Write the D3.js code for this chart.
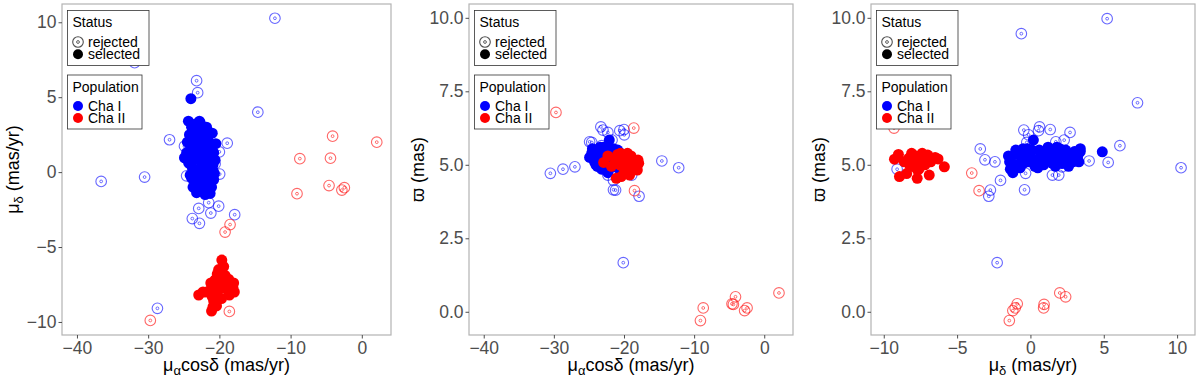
<!DOCTYPE html>
<html>
<head>
<meta charset="utf-8">
<script src="https://cdn.jsdelivr.net/npm/d3@7"></script>
<style>
  body { margin: 0; background: #fff; }
  svg { display: block; font-family: "Liberation Sans", Arial, Helvetica, sans-serif; }
</style>
</head>
<body>
<script>
let W = 1200, H = 382;

// each star: [pmra (mas/yr), pmdec (mas/yr), parallax (mas)]
let chaIRejected = [
  [-12.2, 10.27, 4.90], [-23.2, 6.1, 5.65], [-23.05, 5.3, 5.08], [-14.6, 4.0, 5.13],
  [-27.0, 2.16, 4.93], [-18.9, 1.93, 4.65], [-24.9, 1.73, 5.78], [-20.0, 1.35, 6.20],
  [-36.6, -0.62, 9.46], [-30.5, -0.33, 4.71], [-19.96, -0.13, 6.02], [-24.6, -0.25, 5.76],
  [-31.9, 7.3, 7.11], [-21.5, -2.04, 4.47], [-20.1, -2.27, 1.67], [-22.9, -2.42, 5.10],
  [-21.2, -2.73, 4.14], [-17.85, -2.84, 3.93], [-23.8, -3.1, 5.17], [-22.8, -3.42, 5.54],
  [-28.7, -9.09, 4.85], [-34.0, 5.23, 9.97], [-22.3, 2.7, 6.10], [-23.3, 0.62, 6.29],
  [-23.0, -0.45, 6.18], [-20.6, 0.55, 6.16], [-22.3, 1.5, 4.65], [-21.5, -0.4, 4.15],
  [-21.7, 2.3, 5.84]
];
let chaIIRejected = [
  [-29.7, -9.9, 6.78], [-18.6, -9.3, 6.25], [-19.2, -4.0, 4.72], [-18.5, -3.5, 4.12],
  [-8.7, 0.9, 0.13], [-9.1, -1.44, -0.30], [-4.1, 2.4, 0.51], [-4.4, 0.93, 0.25],
  [-4.6, -0.9, 0.27], [-2.45, -1.04, 0.13], [-2.8, -1.2, 0.04], [2.1, 2.0, 0.64]
];
let chaISelected = [
  [-24.0, 4.9, 5.44], [-24.35, 3.4, 5.45], [-22.8, 3.4, 5.55], [-23.9, 3.0, 5.30],
  [-23.2, 2.9, 5.20], [-22.6, 2.7, 5.35], [-24.2, 2.5, 5.10], [-23.5, 2.4, 5.50],
  [-22.0, 2.3, 5.25], [-21.6, 2.1, 5.05], [-23.0, 2.0, 5.40], [-24.1, 1.8, 5.20],
  [-22.4, 1.7, 4.95], [-21.3, 1.5, 5.30], [-23.6, 1.5, 5.05], [-20.8, 1.3, 5.15],
  [-22.9, 1.2, 5.60], [-24.9, 0.96, 5.25], [-21.9, 1.0, 5.45], [-23.3, 0.9, 5.15],
  [-20.6, 0.8, 5.35], [-24.3, 0.6, 5.50], [-22.5, 0.5, 5.20], [-21.2, 0.4, 5.00],
  [-23.8, 0.3, 4.95], [-22.1, 0.2, 5.84], [-20.9, 0.1, 5.50], [-23.1, 0.0, 5.30],
  [-24.1, -0.2, 5.10], [-21.6, -0.2, 5.20], [-22.7, -0.4, 5.45], [-20.8, -0.5, 5.05],
  [-23.5, -0.6, 5.25], [-21.9, -0.7, 4.90], [-22.9, -0.9, 5.00], [-21.1, -1.0, 5.40],
  [-23.2, -1.37, 4.85], [-21.3, -1.42, 5.10], [-22.3, -1.2, 4.73], [-22.0, -1.5, 5.30],
  [-23.7, -1.0, 5.35], [-20.5, 1.9, 5.40], [-23.4, 3.2, 5.25], [-22.2, 2.9, 5.10],
  [-21.8, 3.0, 5.45], [-24.6, 1.3, 5.40], [-24.5, 2.0, 5.55], [-20.7, -0.1, 5.25],
  [-22.6, 1.4, 5.15], [-23.0, -0.2, 5.55], [-21.4, 0.9, 5.10], [-22.3, 0.8, 5.35],
  [-23.9, -0.4, 5.45], [-22.8, 2.2, 5.05], [-21.0, 2.6, 5.30], [-23.6, 2.6, 4.95],
  [-22.1, -1.0, 5.50], [-20.9, 0.5, 4.90], [-24.0, 0.9, 5.00], [-22.5, 3.1, 5.40],
  [-21.7, -1.3, 5.05], [-23.4, 1.8, 5.60], [-22.0, 1.9, 5.50], [-21.5, -0.5, 5.55],
  [-22.7, 3.3, 5.10], [-23.1, 3.25, 5.35]
];
let chaIISelected = [
  [-19.66, -5.87, 4.93], [-20.1, -6.5, 5.25], [-20.3, -6.8, 5.10], [-19.8, -7.0, 5.33],
  [-20.6, -7.2, 5.00], [-19.3, -7.1, 5.20], [-21.2, -7.4, 5.15], [-18.7, -7.15, 5.05],
  [-18.0, -7.4, 5.16], [-20.0, -7.6, 4.85], [-19.0, -7.8, 5.30], [-21.8, -8.0, 4.95],
  [-22.9, -8.2, 5.08], [-17.9, -8.0, 5.05], [-20.5, -8.1, 5.39], [-19.7, -8.44, 4.70],
  [-21.0, -8.3, 5.22], [-22.3, -8.0, 5.30], [-20.4, -8.93, 4.60], [-21.1, -9.27, 5.19],
  [-20.8, -8.6, 5.10], [-18.1, -7.7, 4.82], [-19.4, -6.3, 5.20], [-21.1, -7.72, 4.54],
  [-20.9, -9.0, 5.35], [-18.6, -8.2, 4.95], [-19.2, -6.9, 4.65], [-20.2, -7.9, 5.18],
  [-19.5, -7.38, 5.39]
];

let muTicks = [-10, -5, 0, 5, 10];
let pmraTicks = [-40, -30, -20, -10, 0];
let plxTicks = [0, 2.5, 5, 7.5, 10];
let pmraDomain = [-42.1, 4.1];
let pmdecDomain = [-10.87, 11.22];
let plxDomain = [-0.79, 10.47];

let statusLabels = ["rejected", "selected"];
let populationLabels = ["Cha I", "Cha II"];
let popColors = ["#0000ff", "#ff0000"];

let plotTop = 4, plotBottom = 335;

let panels = [
  {left: 62, right: 391, xi: 0, yi: 1, xDom: pmraDomain, yDom: pmdecDomain,
   xTicks: pmraTicks, yTicks: muTicks, yFmt: d3.format("d"), xTitle: "ra", yTitle: "dec", yTitleX: 13},
  {left: 469, right: 793, xi: 0, yi: 2, xDom: pmraDomain, yDom: plxDomain,
   xTicks: pmraTicks, yTicks: plxTicks, yFmt: d3.format(".1f"), xTitle: "ra", yTitle: "plx", yTitleX: 418},
  {left: 871, right: 1195, xi: 1, yi: 2, xDom: pmdecDomain, yDom: plxDomain,
   xTicks: muTicks, yTicks: plxTicks, yFmt: d3.format(".1f"), xTitle: "dec", yTitle: "plx", yTitleX: 819}
];

let svg = d3.select("body").append("svg")
  .attr("width", W)
  .attr("height", H);

function muTitle(sel, sub, rest) {
  sel.append("tspan").text("μ");
  sel.append("tspan").attr("font-size", "13px").attr("dy", 4).text(sub);
  sel.append("tspan").attr("dy", -4).text(rest);
}

function writeTitle(t, kind) {
  if (kind == "ra") muTitle(t, "α", "cosδ (mas/yr)");
  else if (kind == "dec") muTitle(t, "δ", " (mas/yr)");
  else t.text("ϖ (mas)");
}

function ring(g, x, y, color, alpha) {
  g.append("circle").attr("cx", x).attr("cy", y).attr("r", 5.3)
    .attr("fill", "none").attr("stroke", color).attr("stroke-width", 1.1).attr("stroke-opacity", alpha);
  g.append("circle").attr("cx", x).attr("cy", y).attr("r", 1.4)
    .attr("fill", "none").attr("stroke", color).attr("stroke-width", 0.9).attr("stroke-opacity", alpha);
}

panels.forEach(function(p) {
  let x = d3.scaleLinear().domain(p.xDom).range([p.left, p.right]);
  let y = d3.scaleLinear().domain(p.yDom).range([plotBottom, plotTop]);
  let g = svg.append("g");

  // rejected stars first, then the selected members on top
  let rej = g.append("g");
  chaIRejected.forEach(function(d) { ring(rej, x(d[p.xi]), y(d[p.yi]), popColors[0], 0.6); });
  chaIIRejected.forEach(function(d) { ring(rej, x(d[p.xi]), y(d[p.yi]), popColors[1], 0.6); });

  [chaISelected, chaIISelected].forEach(function(set, k) {
    g.append("g").selectAll("circle")
      .data(set)
      .enter()
      .append("circle")
      .attr("cx", function(d) { return x(d[p.xi]); })
      .attr("cy", function(d) { return y(d[p.yi]); })
      .attr("r", 5.5)
      .attr("fill", popColors[k]);
  });

  g.append("rect")
    .attr("x", p.left).attr("y", plotTop)
    .attr("width", p.right - p.left).attr("height", plotBottom - plotTop)
    .attr("fill", "none").attr("stroke", "#b3b3b3").attr("stroke-width", 1.2);

  let xAxis = g.append("g").attr("transform", "translate(0," + plotBottom + ")")
    .call(d3.axisBottom(x).tickValues(p.xTicks).tickSize(3.5).tickPadding(3).tickFormat(d3.format("d")));
  let yAxis = g.append("g").attr("transform", "translate(" + p.left + ",0)")
    .call(d3.axisLeft(y).tickValues(p.yTicks).tickSize(3.5).tickPadding(2).tickFormat(p.yFmt));
  [xAxis, yAxis].forEach(function(a) {
    a.select(".domain").remove();
    a.selectAll("line").attr("stroke", "#4d4d4d");
    a.selectAll("text").attr("fill", "#4d4d4d").attr("font-size", "17.5px")
      .attr("font-family", "'Liberation Sans', Arial, sans-serif");
  });

  let xt = g.append("text")
    .attr("x", (p.left + p.right) / 2).attr("y", 371)
    .attr("text-anchor", "middle").attr("font-size", "18px").attr("fill", "#000");
  writeTitle(xt, p.xTitle);
  let yt = g.append("text")
    .attr("transform", "translate(" + (p.yTitleX + 6) + "," + ((plotTop + plotBottom) / 2) + ") rotate(-90)")
    .attr("text-anchor", "middle").attr("font-size", "18px").attr("fill", "#000");
  writeTitle(yt, p.yTitle);

  // legends
  let lx = p.left + 5.5;
  let leg1 = g.append("g").attr("transform", "translate(" + lx + ",10.5)");
  leg1.append("rect").attr("width", 81.5).attr("height", 55)
    .attr("fill", "#fff").attr("stroke", "#333").attr("stroke-width", 0.8);
  leg1.append("text").attr("x", 5).attr("y", 16.5).attr("font-size", "14px").text("Status");
  statusLabels.forEach(function(s, i) {
    let cy = 31.5 + i * 12.3;
    if (i == 0) ring(leg1, 10.5, cy, "#333", 0.85);
    else leg1.append("circle").attr("cx", 10.5).attr("cy", cy).attr("r", 5).attr("fill", "#000");
    leg1.append("text").attr("x", 20.5).attr("y", cy + 5).attr("font-size", "14px").text(s);
  });

  let leg2 = g.append("g").attr("transform", "translate(" + lx + ",75)");
  leg2.append("rect").attr("width", 74.5).attr("height", 54)
    .attr("fill", "#fff").attr("stroke", "#333").attr("stroke-width", 0.8);
  leg2.append("text").attr("x", 5).attr("y", 16.5).attr("font-size", "14px").text("Population");
  populationLabels.forEach(function(s, i) {
    let cy = 31 + i * 12;
    leg2.append("circle").attr("cx", 10.5).attr("cy", cy).attr("r", 5).attr("fill", popColors[i]);
    leg2.append("text").attr("x", 20.5).attr("y", cy + 5).attr("font-size", "14px").text(s);
  });
});
</script>
</body>
</html>
